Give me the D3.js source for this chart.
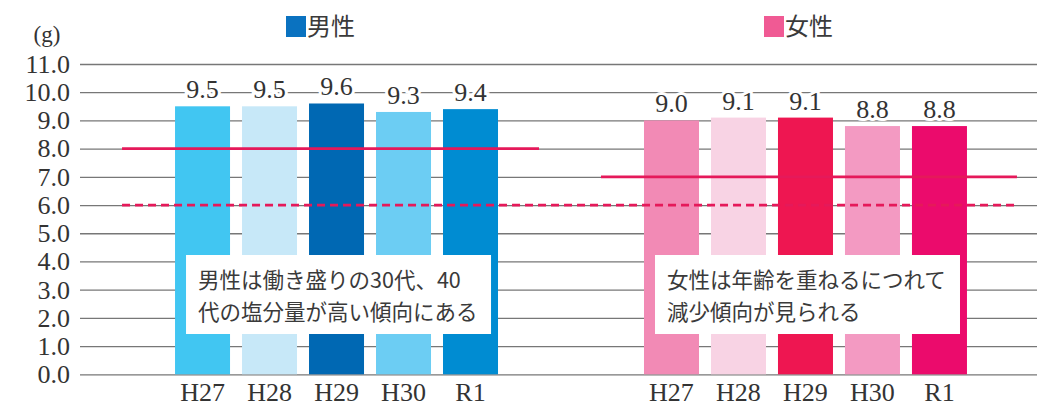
<!DOCTYPE html>
<html>
<head>
<meta charset="utf-8">
<script src="https://cdn.jsdelivr.net/npm/d3@7"></script>
<style>
  body { margin: 0; background: #fff; }
  svg { display: block; }
</style>
</head>
<body>
<div class="svg-wrap"></div>
<script>
const width = 1037;
const height = 407;

// data
const years = ["H27", "H28", "H29", "H30", "R1"];
const maleValues = [9.5, 9.5, 9.6, 9.3, 9.4];
const femaleValues = [9.0, 9.1, 9.1, 8.8, 8.8];
const maleColors = ["#41c6f2", "#c7e8f8", "#0068b3", "#6ccdf3", "#008cd2"];
const femaleColors = ["#f28ab5", "#f8d3e4", "#ee1651", "#f39ac2", "#eb0b6c"];
const yTicks = [0, 1, 2, 3, 4, 5, 6, 7, 8, 9, 10, 11];
const maleTarget = 8.0;
const femaleTarget = 7.0;
const whoTarget = 6.0;
const maleNote = ["男性は働き盛りの30代、40", "代の塩分量が高い傾向にある"];
const femaleNote = ["女性は年齢を重ねるにつれて", "減少傾向が見られる"];

const serif = "'Liberation Serif', 'DejaVu Serif', serif";
const gothic = "'Noto Sans CJK JP', 'Noto Sans', sans-serif";
const red = "#e5195a";

let svg = d3.select(".svg-wrap")
  .append("svg")
  .attr("width", width)
  .attr("height", height)
  .style("background-color", "white");

// one band per slot: 5 male, 2 empty, 5 female
let slots = years.map(d => "m" + d).concat(["gap1", "gap2"], years.map(d => "f" + d));
let x = d3.scaleBand()
  .domain(slots)
  .range([169, 973])
  .paddingInner(0.179)
  .paddingOuter(0.09);

let y = d3.scaleLinear().domain([0, 11]).range([374.3, 64]);

// grid + y labels
let yAxis = d3.axisLeft(y)
  .tickValues(yTicks)
  .tickFormat(d3.format(".1f"))
  .tickSize(-(width - 80))
  .tickPadding(10);

let gy = svg.append("g")
  .attr("transform", "translate(80,0)")
  .call(yAxis);
gy.select(".domain").remove();
gy.selectAll(".tick line").attr("stroke", "#777").attr("stroke-width", 1.3);
gy.selectAll(".tick text")
  .attr("fill", "#333")
  .style("font-family", serif)
  .style("font-size", "26px");

svg.append("text")
  .attr("x", 47)
  .attr("y", 42)
  .attr("text-anchor", "middle")
  .attr("fill", "#333")
  .style("font-family", serif)
  .style("font-size", "23px")
  .text("(g)");

function drawGroup(prefix, values, colors) {
  let rows = years.map((d, i) => ({ key: prefix + d, year: d, value: values[i], color: colors[i] }));

  svg.append("g")
    .selectAll("rect")
    .data(rows)
    .enter()
    .append("rect")
    .attr("x", d => x(d.key))
    .attr("y", d => y(d.value))
    .attr("width", x.bandwidth())
    .attr("height", d => y(0) - y(d.value))
    .attr("fill", d => d.color);

  svg.append("g")
    .selectAll("text")
    .data(rows)
    .enter()
    .append("text")
    .attr("x", d => x(d.key) + x.bandwidth() / 2)
    .attr("y", d => y(d.value) - 8)
    .attr("text-anchor", "middle")
    .attr("fill", "#333")
    .attr("stroke", "white")
    .attr("stroke-width", 6)
    .attr("paint-order", "stroke")
    .style("font-family", serif)
    .style("font-size", "26px")
    .text(d => d.value.toFixed(1));

  svg.append("g")
    .selectAll("text")
    .data(rows)
    .enter()
    .append("text")
    .attr("x", d => x(d.key) + x.bandwidth() / 2)
    .attr("y", 401)
    .attr("text-anchor", "middle")
    .attr("fill", "#333")
    .style("font-family", serif)
    .style("font-size", "26px")
    .text(d => d.year);
}

drawGroup("m", maleValues, maleColors);
drawGroup("f", femaleValues, femaleColors);

// target lines
let mStart = x("m" + years[0]) - 53;
let mEnd = x("m" + years[4]) + x.bandwidth() + 41;
let fStart = x("f" + years[0]) - 43;
let fEnd = x("f" + years[4]) + x.bandwidth() + 50;

let lines = [
  { x1: mStart, x2: mEnd, v: maleTarget, dash: null },
  { x1: fStart, x2: fEnd, v: femaleTarget, dash: null },
  { x1: mStart, x2: fEnd, v: whoTarget, dash: "8,5" }
];
svg.append("g")
  .selectAll("line")
  .data(lines)
  .enter()
  .append("line")
  .attr("x1", d => d.x1)
  .attr("x2", d => d.x2)
  .attr("y1", d => y(d.v))
  .attr("y2", d => y(d.v))
  .attr("stroke", red)
  .attr("stroke-width", 2.8)
  .attr("stroke-dasharray", d => d.dash);

// note boxes
function note(key, lines, boxW) {
  let bx = x(key) + 11;
  let g = svg.append("g");
  g.append("rect")
    .attr("x", bx)
    .attr("y", 255)
    .attr("width", boxW)
    .attr("height", 79)
    .attr("fill", "white");
  g.selectAll("text")
    .data(lines)
    .enter()
    .append("text")
    .attr("x", bx + 12)
    .attr("y", (d, i) => 288 + i * 32)
    .attr("fill", "#3a3a3a")
    .style("font-family", gothic)
    .style("font-size", "21.5px")
    .text(d => d);
}
note("m" + years[0], maleNote, 305);
note("f" + years[0], femaleNote, 305);

// legend
let legend = [
  { label: "男性", color: "#0a72c0", cx: 286 },
  { label: "女性", color: "#f05a94", cx: 764 }
];
let lg = svg.append("g")
  .selectAll("g")
  .data(legend)
  .enter()
  .append("g")
  .attr("transform", d => "translate(" + d.cx + ",16)");
lg.append("rect")
  .attr("width", 20)
  .attr("height", 21)
  .attr("fill", d => d.color);
lg.append("text")
  .attr("x", 21)
  .attr("y", 19)
  .attr("fill", "#3a3a3a")
  .style("font-family", gothic)
  .style("font-size", "24px")
  .text(d => d.label);
</script>
</body>
</html>
